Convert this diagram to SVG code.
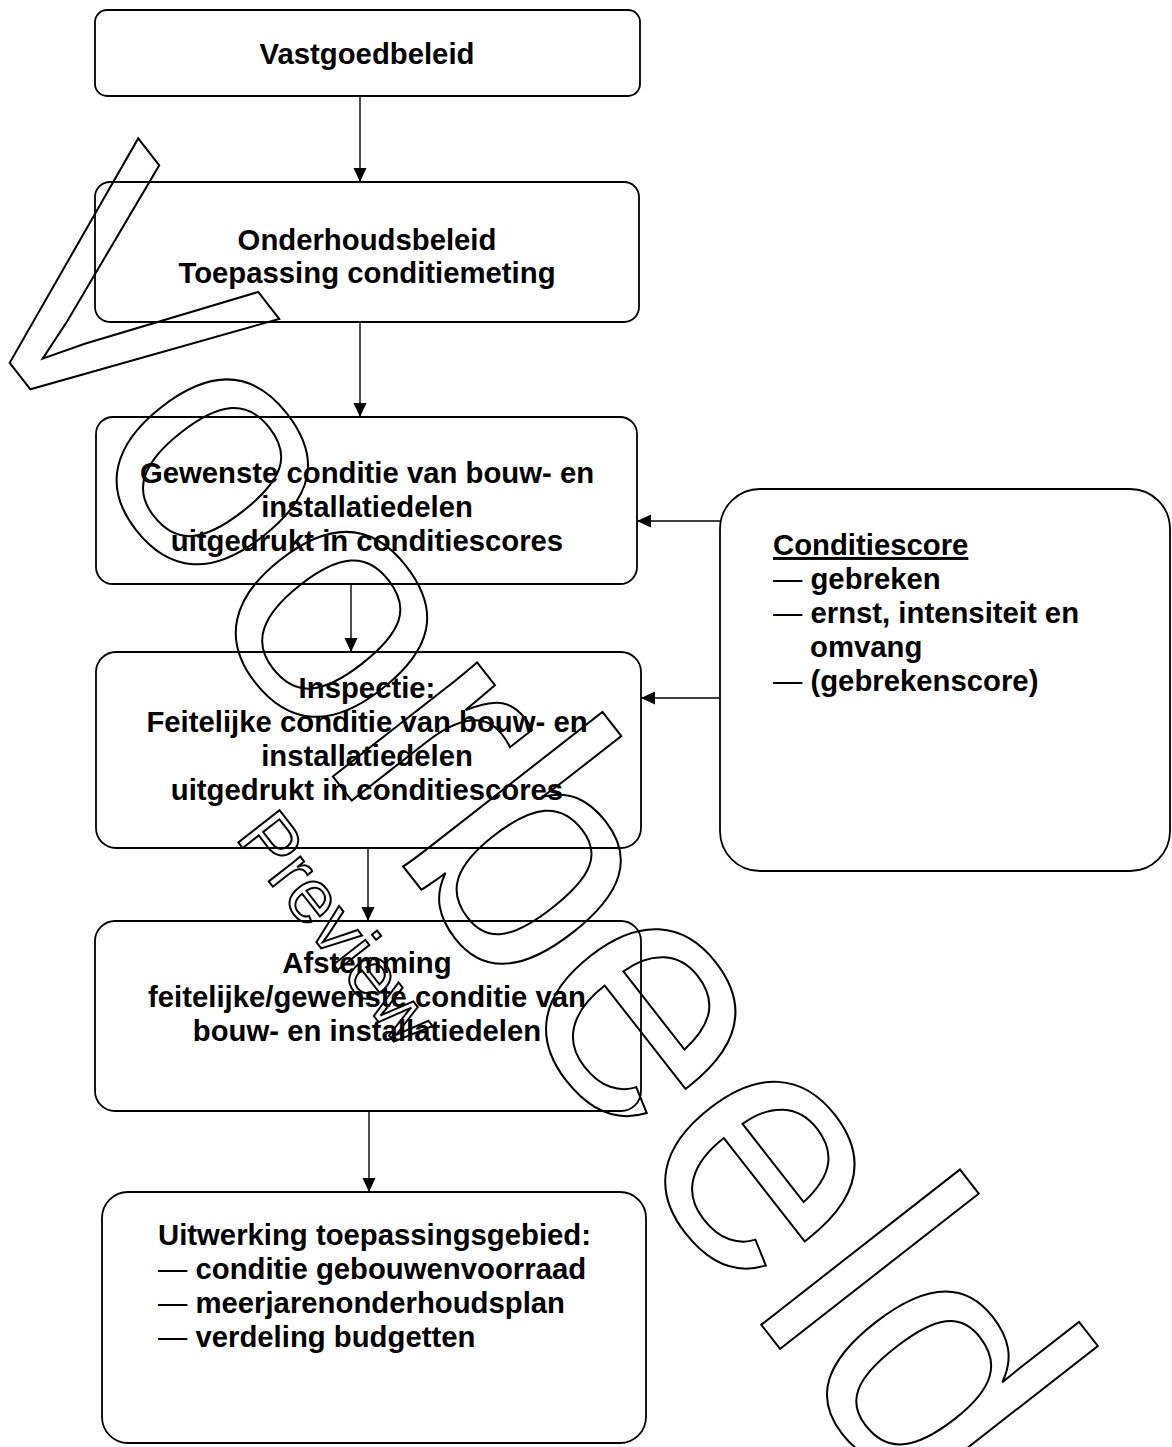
<svg xmlns="http://www.w3.org/2000/svg" width="1172" height="1447" viewBox="0 0 1172 1447">
<style>
.box{fill:#fff;stroke:#000;stroke-width:1.8}
.t{font-family:"Liberation Sans",Arial,sans-serif;font-size:29.3px;font-weight:bold;fill:#000}
.c{text-anchor:middle}
.d{font-weight:normal}
.conn line{stroke:#000;stroke-width:1.4}
.wm{font-family:"Liberation Sans",Arial,sans-serif;fill:none;stroke:#000;stroke-width:2}
</style>
<defs>
<marker id="ah" viewBox="0 0 14 14" refX="14" refY="7" markerWidth="14" markerHeight="14" markerUnits="userSpaceOnUse" orient="auto"><path d="M0,0.5 L14,7 L0,13.5 Z" fill="#000"/></marker>
</defs>
<rect width="1172" height="1447" fill="#fff"/>
<g id="n1"><rect class="box" x="95" y="10" width="545" height="86" rx="12"/><text class="t c" x="367" y="64">Vastgoedbeleid</text></g>
<g id="n2"><rect class="box" x="95" y="182" width="544" height="140" rx="15"/><text class="t c" x="367" y="250">Onderhoudsbeleid</text><text class="t c" x="367" y="283">Toepassing conditiemeting</text></g>
<g id="n3"><rect class="box" x="96" y="417" width="541" height="167" rx="17"/><text class="t c" x="367" y="483">Gewenste conditie van bouw- en</text><text class="t c" x="367" y="517">installatiedelen</text><text class="t c" x="367" y="551">uitgedrukt in conditiescores</text></g>
<g id="n4"><rect class="box" x="96" y="652" width="545" height="196" rx="20"/><text class="t c" x="367" y="698">Inspectie:</text><text class="t c" x="367" y="732">Feitelijke conditie van bouw- en</text><text class="t c" x="367" y="766">installatiedelen</text><text class="t c" x="367" y="800">uitgedrukt in conditiescores</text></g>
<g id="n5"><rect class="box" x="95" y="921" width="546" height="190" rx="20"/><text class="t c" x="367" y="973">Afstemming</text><text class="t c" x="367" y="1007">feitelijke/gewenste conditie van</text><text class="t c" x="367" y="1041">bouw- en installatiedelen</text></g>
<g id="n6"><rect class="box" x="102" y="1192" width="544" height="251" rx="26"/><text class="t" x="158" y="1245">Uitwerking toepassingsgebied:</text><text class="t" x="158" y="1279"><tspan class="d">—</tspan> conditie gebouwenvoorraad</text><text class="t" x="158" y="1313"><tspan class="d">—</tspan> meerjarenonderhoudsplan</text><text class="t" x="158" y="1347"><tspan class="d">—</tspan> verdeling budgetten</text></g>
<g id="n7"><rect class="box" x="720" y="489" width="450" height="382" rx="40"/><text class="t" x="773" y="555" style="text-decoration:underline">Conditiescore</text><text class="t" x="773" y="589"><tspan class="d">—</tspan> gebreken</text><text class="t" x="773" y="623"><tspan class="d">—</tspan> ernst, intensiteit en</text><text class="t" x="810" y="657">omvang</text><text class="t" x="773" y="691"><tspan class="d">—</tspan> (gebrekenscore)</text></g>
<g id="connectors" class="conn">
<line x1="360" y1="96" x2="360" y2="182" marker-end="url(#ah)"/>
<line x1="360" y1="322" x2="360" y2="417" marker-end="url(#ah)"/>
<line x1="351" y1="584" x2="351" y2="652" marker-end="url(#ah)"/>
<line x1="368" y1="848" x2="368" y2="921" marker-end="url(#ah)"/>
<line x1="369" y1="1111" x2="369" y2="1192" marker-end="url(#ah)"/>
<line x1="720" y1="521" x2="637" y2="521" marker-end="url(#ah)"/>
<line x1="720" y1="698" x2="641" y2="698" marker-end="url(#ah)"/>
</g>
<text class="wm" transform="translate(-51.4,284.6) rotate(52)" x="0" y="0" font-size="348">Voorbeeld</text>
<text class="wm" transform="translate(234.4,837.4) rotate(52)" x="0" y="0" font-size="76">Preview</text>
</svg>
